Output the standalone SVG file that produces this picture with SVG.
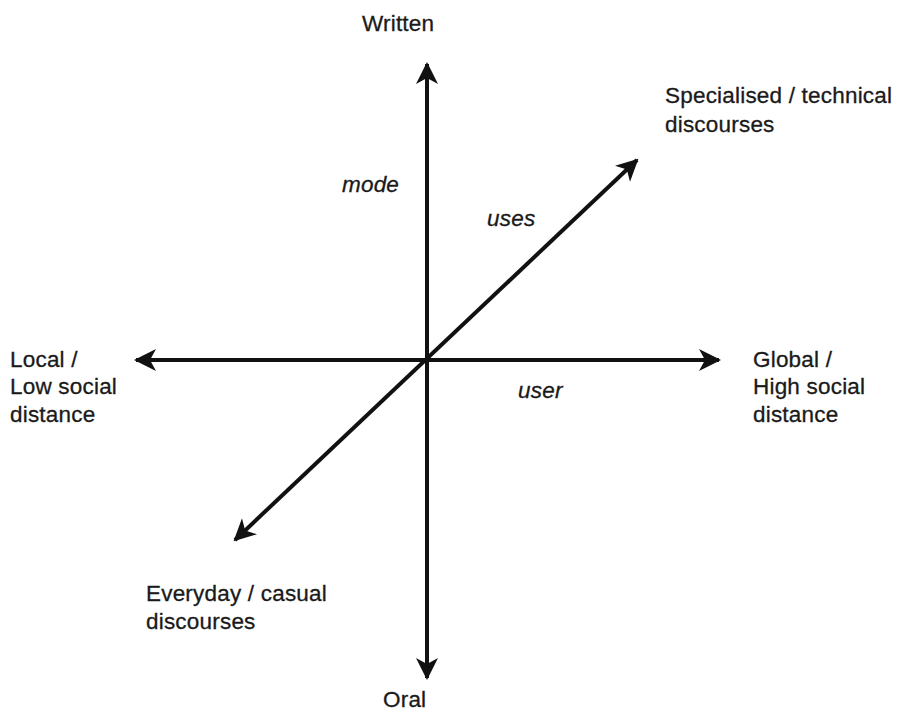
<svg xmlns="http://www.w3.org/2000/svg" width="900" height="713" viewBox="0 0 900 713">
<style>
text{font-family:"Liberation Sans",Arial,sans-serif;font-size:22.5px;fill:#1a1a1a;letter-spacing:0.2px;stroke:#1a1a1a;stroke-width:0.3px}
.it{font-style:italic}
.ax{stroke:#111;stroke-width:4;fill:none}
</style>
<defs>
<marker id="ah" viewBox="0 0 24 24" refX="20" refY="12" markerWidth="24" markerHeight="24" markerUnits="userSpaceOnUse" orient="auto-start-reverse">
<path d="M0,1 L22,12 L0,23 L6,12 Z" fill="#111"/>
</marker>
</defs>
<rect width="900" height="713" fill="#fff"/>
<g id="connectors">
<line class="ax" x1="427" y1="64" x2="427" y2="678" marker-start="url(#ah)" marker-end="url(#ah)"/>
<line class="ax" x1="136" y1="360" x2="719" y2="360" marker-start="url(#ah)" marker-end="url(#ah)"/>
<line class="ax" x1="235" y1="540" x2="637" y2="160" marker-start="url(#ah)" marker-end="url(#ah)"/>
</g>
<g id="written"><text x="362" y="31">Written</text></g>
<g id="oral"><text x="383" y="707">Oral</text></g>
<g id="specialised"><text x="665" y="103">Specialised / technical</text><text x="665" y="132">discourses</text></g>
<g id="everyday"><text x="146" y="601">Everyday / casual</text><text x="146" y="629">discourses</text></g>
<g id="local"><text x="10" y="367">Local /</text><text x="10" y="394">Low social</text><text x="10" y="422">distance</text></g>
<g id="global"><text x="753" y="367">Global /</text><text x="753" y="394">High social</text><text x="753" y="422">distance</text></g>
<g id="mode"><text class="it" x="342" y="192">mode</text></g>
<g id="uses"><text class="it" x="487" y="226">uses</text></g>
<g id="user"><text class="it" x="518" y="398">user</text></g>
</svg>
